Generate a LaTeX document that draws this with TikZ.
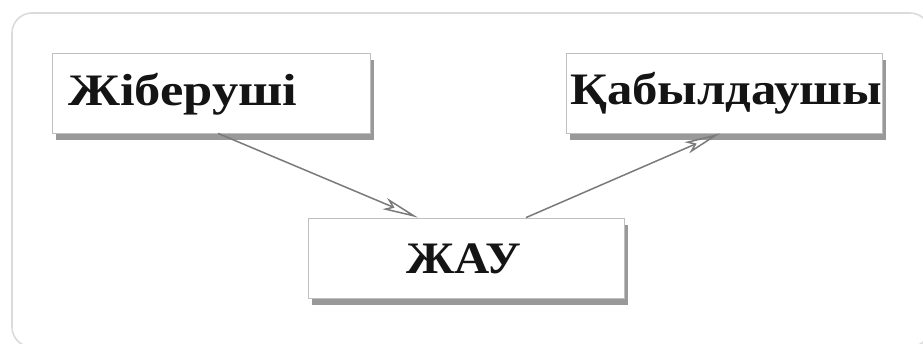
\documentclass[tikz,border=0pt]{standalone}
\usepackage{fontspec}
\setmainfont{Liberation Serif}
\usetikzlibrary{arrows.meta,shadows}
\newcommand\fitw[2]{\resizebox{#1}{\height}{#2}}
\tikzset{
  card/.style={draw=black!14, line width=1.6pt, rounded corners=20pt, fill=white},
  boxnode/.style={draw=black!25, line width=0.8pt, fill=white, inner sep=0pt,
    drop shadow={shadow xshift=4pt, shadow yshift=-7pt, fill=black!40, opacity=1}},
  lbl/.style={inner sep=0pt, font=\fontsize{45}{48}\selectfont\bfseries, text=black!92},
  conn/.style={draw=black!52, line width=1.5pt,
    -{Stealth[open, length=36pt, width=12pt, inset=8pt]}}
}
\begin{document}
\begin{tikzpicture}[x=1pt,y=-1pt]
\useasboundingbox (0,0) rectangle (923,343);
\fill[white] (0,0) rectangle (923,343);
\draw[card] (12,13) rectangle (930,347);
\node[boxnode, minimum width=318pt, minimum height=80pt] (snd) at (211,93) {};
\node[boxnode, minimum width=316pt, minimum height=80pt] (rcv) at (724,93) {};
\node[boxnode, minimum width=316pt, minimum height=80pt] (jau) at (466,258) {};
\node[lbl, anchor=base west] (tsnd) at (68,105) {\fitw{229pt}{Жіберуші}};
\node[lbl, anchor=base west] (trcv) at (570,104) {\fitw{312pt}{Қабылдаушы}};
\node[lbl, anchor=base west] (tjau) at (406,273) {\fitw{115pt}{ЖАУ}};
\draw[conn] ([xshift=7pt]snd.south) -- ([xshift=-48pt]jau.north);
\draw[conn] ([xshift=60pt]jau.north) -- ([xshift=-4pt]rcv.south);
\end{tikzpicture}
\end{document}
